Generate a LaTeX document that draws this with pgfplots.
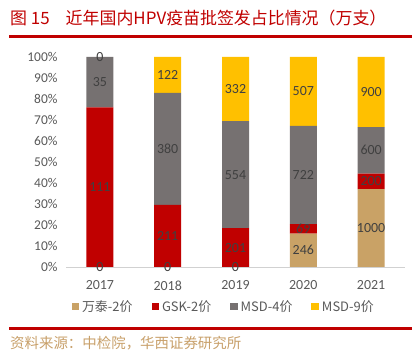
\documentclass[border=0pt]{standalone}
\usepackage{pgfplots}
\pgfplotsset{compat=1.18}
\usepackage{pgfplotstable}
\usepackage{fontspec}
\setmainfont{Carlito}
\newfontfamily\cjk{Noto Sans CJK SC}
\definecolor{cwt}{HTML}{C9A266}
\definecolor{cgsk}{HTML}{C00000}
\definecolor{cmsdf}{HTML}{767171}
\definecolor{cmsdn}{HTML}{FFC000}
\definecolor{ctitle}{HTML}{C00000}
\definecolor{csrc}{HTML}{C8A06A}
\definecolor{clab}{HTML}{404040}
\definecolor{ctick}{HTML}{595959}

% raw values (万支) and share of the year's total (%)
\pgfplotstableread{
x wt wtp gsk gskp msdf msdfp msdn msdnp
0 0 0 111 76.027 35 23.973 0 0
1 0 0 211 29.593 380 53.296 122 17.111
2 0 0 201 18.491 554 50.966 332 30.543
3 246 15.933 69 4.469 722 46.762 507 32.836
4 1000 37.037 200 7.407 600 22.222 900 33.334
}\data

\pgfplotsset{
  frame/.style={at={(66bp,89bp)}, anchor=south west, scale only axis,
    width=339bp, height=210bp, xmin=-0.5, xmax=4.5, ymin=0, ymax=100},
}

\begin{document}
\begin{tikzpicture}
\path[use as bounding box] (0,0) rectangle (416bp,356bp);
\node[anchor=west, text=ctitle, font=\fontsize{17}{19}\selectfont\cjk, inner sep=0] at (10bp,338bp) {图 15\hspace{16bp}近年国内HPV疫苗批签发占比情况（万支）};
\draw[ctitle, line width=2.5bp] (9bp,319.5bp) -- (412bp,319.5bp);
\draw[ctitle, line width=2.5bp] (9bp,27.5bp) -- (412bp,27.5bp);
\node[anchor=west, text=csrc, font=\fontsize{14.5}{16}\selectfont\cjk, inner sep=0] at (10bp,13bp) {资料来源：中检院，华西证券研究所};
\begin{axis}[
  frame,
  ybar stacked, bar width=27bp,
  /pgf/number format/assume math mode=true,
  axis lines*=left,
  y axis line style={draw=none},
  x axis line style={draw=black!18, line width=0.8bp},
  major tick length=0pt,
  xtick={0,1,2,3,4}, xticklabels={2017,2018,2019,2020,2021},
  ytick={0,10,...,100},
  yticklabel={\pgfmathprintnumber{\tick}\%},
  yticklabel style={font=\fontsize{13.5}{15}\selectfont, text=ctick, xshift=-5bp},
  xticklabel style={font=\fontsize{14}{16}\selectfont, text=ctick, yshift=-10bp},
  legend style={at={(0.465,-0.19)}, anchor=center, draw=none, fill=none,
    legend columns=4, font=\fontsize{13}{15}\selectfont\cjk, text=ctick,
    /tikz/every even column/.append style={column sep=17bp},
    /tikz/every odd column/.append style={column sep=1bp}},
  legend image code/.code={\fill[#1] (0bp,-3.5bp) rectangle (7.5bp,4bp);},
]
\addplot[fill=cwt, draw=none] table[x=x, y=wtp] {\data};
\addplot[fill=cgsk, draw=none] table[x=x, y=gskp] {\data};
\addplot[fill=cmsdf, draw=none] table[x=x, y=msdfp] {\data};
\addplot[fill=cmsdn, draw=none] table[x=x, y=msdnp] {\data};
\legend{万泰-2价, GSK-2价, MSD-4价, MSD-9价}
\end{axis}
% value labels, centred in each segment, drawn above all bars
\begin{axis}[
  frame, hide axis, clip=false,
  /pgf/number format/assume math mode=true,
  point meta=explicit,
  nodes near coords={\pgfmathprintnumber[fixed,precision=0,1000 sep={}]{\pgfplotspointmeta}},
  every node near coord/.append style={font=\fontsize{14}{16}\selectfont, text=clab, anchor=center},
]
\addplot[draw=none, mark=none] table[x=x, y expr=\thisrow{wtp}/2, meta=wt] {\data};
\addplot[draw=none, mark=none] table[x=x, y expr=\thisrow{wtp}+\thisrow{gskp}/2, meta=gsk] {\data};
\addplot[draw=none, mark=none] table[x=x, y expr=\thisrow{wtp}+\thisrow{gskp}+\thisrow{msdfp}/2, meta=msdf] {\data};
\addplot[draw=none, mark=none] table[x=x, y expr=\thisrow{wtp}+\thisrow{gskp}+\thisrow{msdfp}+\thisrow{msdnp}/2, meta=msdn] {\data};
\end{axis}
\end{tikzpicture}
\end{document}
